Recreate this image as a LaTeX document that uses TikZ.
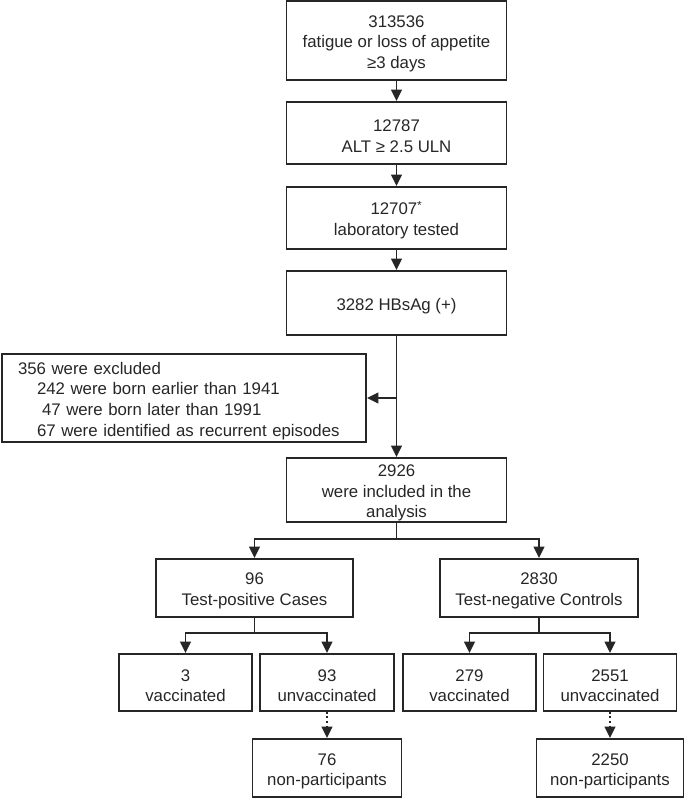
\documentclass[tikz,border=0pt]{standalone}
\usepackage{fontspec}
\setmainfont{Liberation Sans}
\usetikzlibrary{arrows.meta}

\newcommand{\hd}{\rule{0pt}{13.5pt}}

\begin{document}
\begin{tikzpicture}[x=0.75pt, y=-0.75pt, black!85,
    cell/.style 2 args={draw, line width=1.4pt, minimum width=#1*0.75pt,
        minimum height=#2*0.75pt, inner sep=0pt, align=center,
        font=\fontsize{12.6}{15.4}\selectfont},
    arr/.style={line width=1.4pt, -{Triangle[length=8.5pt,width=8pt]}},
    link/.style={line width=1.4pt}]

\useasboundingbox (0,0) rectangle (685,798);

% main stack
\node[cell={220}{79}] (top) at (396.5,40.5) {\hd313536\\fatigue or loss of appetite\\≥3 days};
\node[cell={220}{62}] (alt) at (396.5,133) {\hd12787\\ALT ≥ 2.5 ULN};
\node[cell={220}{62}] (lab) at (396.5,218) {\hd12707\textsuperscript{*}\\laboratory tested};
\node[cell={220}{64}] (hbs) at (396.5,303) {\hd3282 HBsAg (+)};
\node[cell={364}{88}, inner xsep=12pt, text width=249pt, align=left] (excl) at (184,398)
    {\hd356 were excluded\\
     \hspace*{14.25pt}242 were born earlier than 1941\\
     \hspace*{18pt}47 were born later than 1991\\
     \hspace*{14.25pt}67 were identified as recurrent episodes};
\node[cell={220}{64}] (incl) at (396.5,490) {\hd2926\\were included in the\\analysis};

% groups
\node[cell={197}{58}] (cases) at (254.5,588) {\hd96\\Test-positive Cases};
\node[cell={198}{58}] (ctrl) at (539,588) {\hd2830\\Test-negative Controls};

\node[cell={133}{57}] (vac1) at (185.5,682.5) {\hd3\\vaccinated};
\node[cell={134}{57}] (unv1) at (327,682.5) {\hd93\\unvaccinated};
\node[cell={133}{57}] (vac2) at (469.5,682.5) {\hd279\\vaccinated};
\node[cell={133}{57}] (unv2) at (610,682.5) {\hd2551\\unvaccinated};

\node[cell={149}{58}] (np1) at (327,768) {\hd76\\non-participants};
\node[cell={147}{58}] (np2) at (610,768) {\hd2250\\non-participants};

% connectors
\foreach \a/\b in {top/alt,alt/lab,lab/hbs,hbs/incl}{
    \draw[arr] (\a) -- (\b);
}
\coordinate (exc) at (hbs.south |- excl.east);
\draw[arr] (exc) -- (excl.east);

\draw[link] (incl.south) -- ++(0,16) coordinate (s0);
\draw[arr] (s0) -| (cases.north);
\draw[arr] (s0) -| (ctrl.north);

\foreach \p/\l/\r/\n in {cases/vac1/unv1/1,ctrl/vac2/unv2/2}{
    \draw[link] (\p.south) -- ++(0,15) coordinate (s\n);
    \draw[arr] (s\n) -| (\l.north);
    \draw[arr] (s\n) -| (\r.north);
}

\draw[arr, dotted] (unv1) -- (np1);
\draw[arr, dotted] (unv2) -- (np2);

\end{tikzpicture}
\end{document}
